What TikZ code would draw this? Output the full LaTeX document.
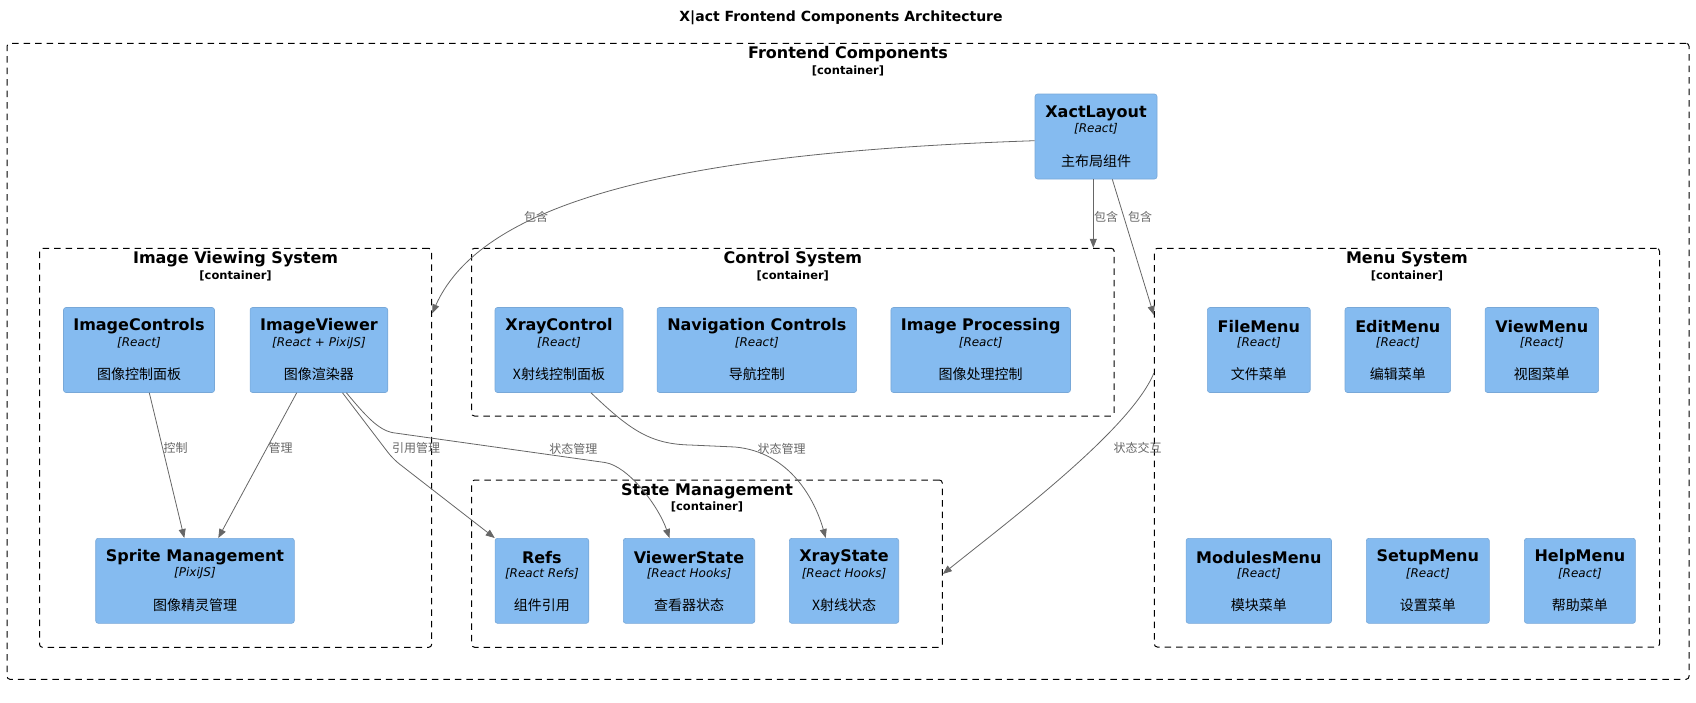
\documentclass[tikz,border=0pt]{standalone}
\usepackage{fontspec}
\setmainfont{DejaVu Sans}
\newfontfamily\cjk{Noto Sans CJK SC}
\usetikzlibrary{arrows.meta}

\definecolor{boxblue}{RGB}{133,187,240}
\definecolor{boxedge}{RGB}{120,168,216}
\definecolor{edgegray}{RGB}{102,102,102}

\tikzset{
  compbox/.style={rectangle, rounded corners=2.5pt, fill=boxblue, draw=boxedge, line width=0.6pt, minimum height=85pt, inner sep=0pt},
  comptitle/.style={inner sep=0pt, font=\bfseries\fontsize{16}{19}\selectfont},
  comptech/.style={inner sep=0pt, font=\itshape\fontsize{12}{14}\selectfont},
  compdesc/.style={inner sep=0pt, font=\cjk\fontsize{14}{16}\selectfont},
  groupbox/.style={rectangle, rounded corners=3pt, draw=black, line width=1pt, dash pattern=on 6.5pt off 5pt, inner sep=0pt},
  grouptitle/.style={inner sep=0pt, font=\bfseries\fontsize{16}{19}\selectfont},
  grouptag/.style={inner sep=0pt, font=\bfseries\fontsize{11.5}{13}\selectfont},
  charttitle/.style={inner sep=0pt, font=\bfseries\fontsize{14}{17}\selectfont},
  rel/.style={draw=edgegray, line width=0.8pt, -{Triangle[length=9pt,width=7pt]}},
  rellabel/.style={inner sep=0pt, text=edgegray, font=\cjk\fontsize{12}{14}\selectfont}
}

% component: name, x, y, width, title, technology, description
\newcommand{\compnode}[7]{%
  \node[compbox, minimum width=#4] (#1) at (#2,#3) {};
  \node[comptitle] (#1-t) at ([yshift=-19.4pt]#1.north) {#5};
  \node[comptech] (#1-s) at ([yshift=-35.5pt]#1.north) {[#6]};
  \node[compdesc] (#1-d) at ([yshift=-67pt]#1.north) {#7};
}

% container: name, x1, y1, x2, y2, title
\newcommand{\contbox}[6]{%
  \node[groupbox, minimum width=#4-#2, minimum height=#5-#3] (#1) at ({(#2+#4)/2},{(#3+#5)/2}) {};
  \node[grouptitle] (#1-t) at ([yshift=-11.5pt]#1.north) {#6};
  \node[grouptag] (#1-s) at ([yshift=-27.8pt]#1.north) {[container]};
}

\begin{document}
\begin{tikzpicture}[x=1pt, y=-1pt]
    \useasboundingbox (0,0) rectangle (1696,702);

    % Title
    \node[charttitle] (title) at (841,17.3) {X|act Frontend Components Architecture};

    % Containers
    \contbox{frontend}{7}{43.3}{1689}{679.3}{Frontend Components}
    \contbox{viewing}{39.5}{248.3}{431.7}{647.3}{Image Viewing System}
    \contbox{control}{471.5}{248.3}{1114.2}{416}{Control System}
    \contbox{state}{471.7}{480}{942.3}{647.3}{State Management}
    \contbox{menu}{1154.3}{248.3}{1659.5}{647}{Menu System}

    % Components
    \compnode{layout}{1096}{136.5}{122}{XactLayout}{React}{主布局组件}
    \compnode{imgctrl}{139}{350}{151}{ImageControls}{React}{图像控制面板}
    \compnode{viewer}{318.9}{350}{137.7}{ImageViewer}{React + PixiJS}{图像渲染器}
    \compnode{sprite}{195}{580.8}{198.6}{Sprite Management}{PixiJS}{图像精灵管理}
    \compnode{xrayctrl}{559}{350}{128}{XrayControl}{React}{X射线控制面板}
    \compnode{navctrl}{756.8}{350}{199.5}{Navigation Controls}{React}{导航控制}
    \compnode{imgproc}{980.7}{350}{179.5}{Image Processing}{React}{图像处理控制}
    \compnode{refs}{541.9}{580.8}{93.7}{Refs}{React Refs}{组件引用}
    \compnode{viewstate}{689}{580.8}{131.4}{ViewerState}{React Hooks}{查看器状态}
    \compnode{xraystate}{844}{580.8}{109.4}{XrayState}{React Hooks}{X射线状态}
    \compnode{filemenu}{1258.8}{350}{102.8}{FileMenu}{React}{文件菜单}
    \compnode{editmenu}{1397.8}{350}{105.6}{EditMenu}{React}{编辑菜单}
    \compnode{viewmenu}{1541.8}{350}{113.5}{ViewMenu}{React}{视图菜单}
    \compnode{modmenu}{1258.8}{580.8}{145.4}{ModulesMenu}{React}{模块菜单}
    \compnode{setupmenu}{1427.8}{580.8}{123}{SetupMenu}{React}{设置菜单}
    \compnode{helpmenu}{1579.9}{580.8}{111}{HelpMenu}{React}{帮助菜单}

    % Relations from the layout
    \coordinate (incA) at ([xshift=-2.7pt]layout.south);
    \draw[rel] ([yshift=-4.2pt]layout.west) .. controls (700,152) and (485,195) .. ([yshift=134.5pt]viewing.east);
    \draw[rel] (incA) -- (incA |- control.north);
    \draw[rel] ([xshift=16.3pt]layout.south) -- ([yshift=132.7pt]menu.west);
    \node[rellabel] (incl1) at (536,217.3) {包含};
    \node[rellabel] (incl2) at (1106,217.3) {包含};
    \node[rellabel] (incl3) at (1140,217.3) {包含};

    % Relations inside the image viewing system
    \draw[rel] ([xshift=10.3pt]imgctrl.south) -- ([xshift=-10.7pt]sprite.north);
    \draw[rel] ([xshift=-22.2pt]viewer.south) -- ([xshift=23.3pt]sprite.north);
    \node[rellabel] (ctl) at (175.7,448.3) {控制};
    \node[rellabel] (mgr) at (280.7,448.3) {管理};

    % Relations to the state management
    \draw[rel, rounded corners=8pt] ([xshift=23.6pt]viewer.south) -- (393,459) -- (refs.north west);
    \draw[rel] ([xshift=27.5pt]viewer.south) .. controls (365,415) and (378,430) .. (393,432.7)
        -- (605,462.5) .. controls (628,466) and (658,505) .. ([xshift=-19.5pt]viewstate.north);
    \draw[rel] ([xshift=32pt]xrayctrl.south) .. controls (630,430) and (650,444) .. (690,445)
        -- (735,447) .. controls (790,452) and (815,500) .. ([xshift=-18.3pt]xraystate.north);
    \draw[rel] ([yshift=74.4pt]menu.west) .. controls (1130,430) and (1010,520) .. ([yshift=-10.3pt]state.east);
    \node[rellabel] (refmgr) at (416,448.3) {引用管理};
    \node[rellabel] (stmgr1) at (573.3,449) {状态管理};
    \node[rellabel] (stmgr2) at (781.7,449) {状态管理};
    \node[rellabel] (stint) at (1137.7,448.3) {状态交互};
\end{tikzpicture}
\end{document}
